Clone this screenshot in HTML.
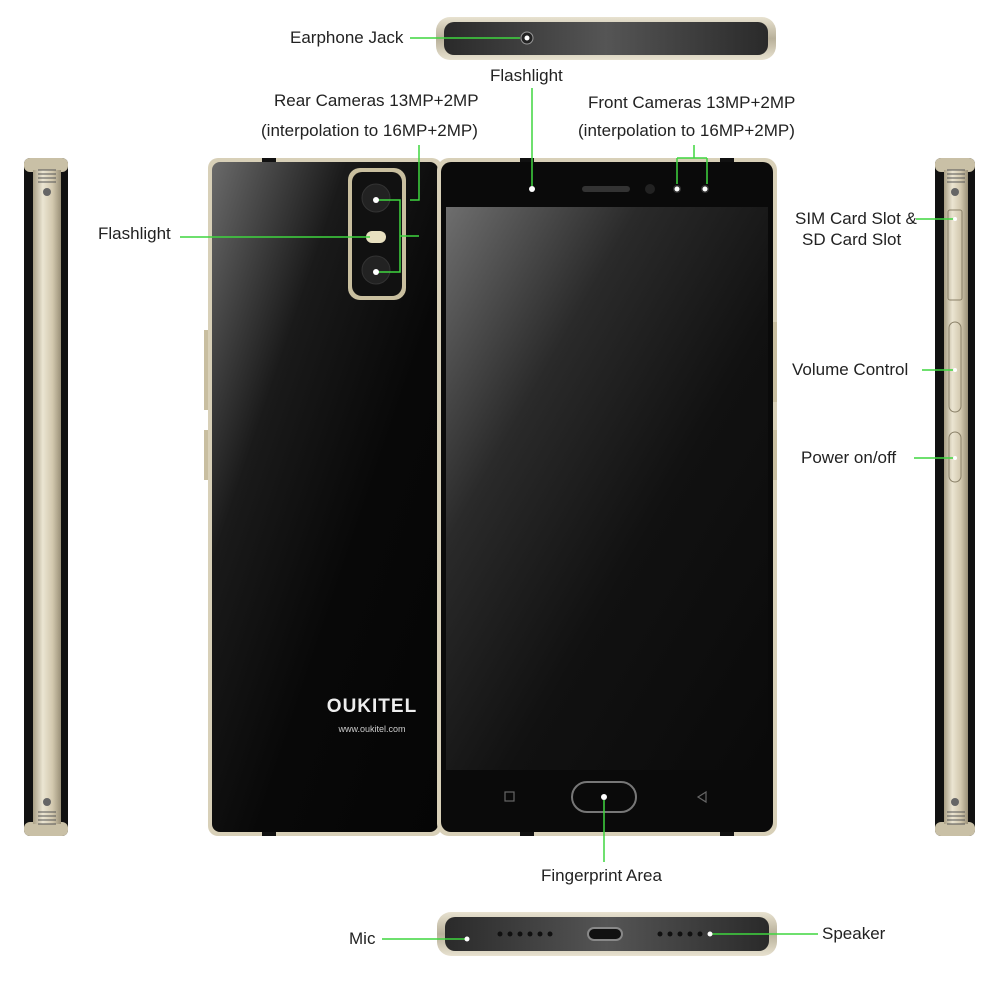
<!DOCTYPE html>
<html><head><meta charset="utf-8"><style>
body{margin:0;background:#fff;}
.wrap{position:relative;width:1000px;height:1000px;overflow:hidden;font-family:"Liberation Sans",sans-serif;color:#222;}
.t{position:absolute;font-size:17px;white-space:nowrap;}
</style></head><body><div class="wrap">
<svg width="1000" height="1000" style="position:absolute;left:0;top:0">
<defs>
<linearGradient id="gold" x1="0" x2="1"><stop offset="0" stop-color="#a89e84"/><stop offset=".35" stop-color="#ebe5d2"/><stop offset=".7" stop-color="#d2c8ae"/><stop offset="1" stop-color="#9a9078"/></linearGradient>
<linearGradient id="back" x1="0" y1="0" x2="1" y2="1"><stop offset="0" stop-color="#6a6a6a"/><stop offset=".3" stop-color="#1a1a1a"/><stop offset=".6" stop-color="#080808"/><stop offset="1" stop-color="#050505"/></linearGradient>
<linearGradient id="scr" x1="0" y1="0" x2="1" y2="1"><stop offset="0" stop-color="#6e6e6e"/><stop offset=".3" stop-color="#2a2a2a"/><stop offset=".6" stop-color="#111"/><stop offset="1" stop-color="#0a0a0a"/></linearGradient>
<linearGradient id="edge" x1="0" y1="0" x2="0" y2="1"><stop offset="0" stop-color="#e8e2d0"/><stop offset=".5" stop-color="#b8b09a"/><stop offset="1" stop-color="#e8e2d0"/></linearGradient>
<linearGradient id="carb" x1="0" y1="0" x2="1" y2="0"><stop offset="0" stop-color="#2a2a2a"/><stop offset=".5" stop-color="#555"/><stop offset="1" stop-color="#2a2a2a"/></linearGradient>
</defs>
<!-- left side -->
<rect x="24" y="158" width="44" height="678" rx="6" fill="#111"/>
<rect x="24" y="158" width="44" height="14" rx="6" fill="#c9c0a6"/>
<rect x="24" y="822" width="44" height="14" rx="6" fill="#c9c0a6"/>
<rect x="33" y="170" width="28" height="654" fill="url(#gold)"/>
<g stroke="#555" stroke-width="1"><line x1="38" y1="170" x2="56" y2="170"/><line x1="38" y1="174" x2="56" y2="174"/><line x1="38" y1="178" x2="56" y2="178"/><line x1="38" y1="182" x2="56" y2="182"/>
<line x1="38" y1="812" x2="56" y2="812"/><line x1="38" y1="816" x2="56" y2="816"/><line x1="38" y1="820" x2="56" y2="820"/><line x1="38" y1="824" x2="56" y2="824"/></g>
<circle cx="47" cy="192" r="4" fill="#666"/><circle cx="47" cy="802" r="4" fill="#666"/>
<!-- back phone -->
<rect x="208" y="158" width="234" height="678" rx="10" fill="#d8d0b8"/>
<rect x="212" y="162" width="226" height="670" rx="8" fill="url(#back)"/>
<rect x="204" y="330" width="4" height="80" fill="#c8bea0"/>
<rect x="204" y="430" width="4" height="50" fill="#c8bea0"/>
<rect x="262" y="158" width="14" height="4" fill="#111"/><rect x="262" y="832" width="14" height="4" fill="#111"/>
<rect x="348" y="168" width="58" height="132" rx="12" fill="#c9bf9f"/>
<rect x="352" y="172" width="50" height="124" rx="10" fill="#111"/>
<circle cx="376" cy="198" r="14" fill="#222" stroke="#333"/>
<circle cx="376" cy="270" r="14" fill="#222" stroke="#333"/>
<rect x="366" y="231" width="20" height="12" rx="6" fill="#e8e0c0"/>
<text x="372" y="712" font-family="Liberation Sans" font-weight="bold" font-size="19" fill="#eee" text-anchor="middle" letter-spacing="1">OUKITEL</text>
<text x="372" y="732" font-family="Liberation Sans" font-size="9" fill="#ccc" text-anchor="middle">www.oukitel.com</text>
<!-- front phone -->
<rect x="437" y="158" width="340" height="678" rx="12" fill="#d8d0b8"/>
<rect x="441" y="162" width="332" height="670" rx="10" fill="#0a0a0a"/>
<rect x="446" y="207" width="322" height="563" fill="url(#scr)"/>
<rect x="520" y="158" width="14" height="4" fill="#111"/><rect x="720" y="158" width="14" height="4" fill="#111"/>
<rect x="520" y="832" width="14" height="4" fill="#111"/><rect x="720" y="832" width="14" height="4" fill="#111"/>
<rect x="582" y="186" width="48" height="6" rx="3" fill="#333"/>
<circle cx="650" cy="189" r="5" fill="#222"/>
<circle cx="677" cy="189" r="4" fill="#333"/>
<circle cx="705" cy="189" r="4" fill="#333"/>
<rect x="505" y="792" width="9" height="9" fill="none" stroke="#666" stroke-width="1.2"/>
<rect x="572" y="782" width="64" height="30" rx="15" fill="none" stroke="#777" stroke-width="2"/>
<path d="M706 792 L698 797 L706 802 Z" fill="none" stroke="#666" stroke-width="1.2"/>
<rect x="773" y="322" width="4" height="80" fill="#c8bea0"/>
<rect x="773" y="430" width="4" height="50" fill="#c8bea0"/>
<!-- right side -->
<rect x="935" y="158" width="40" height="678" rx="6" fill="#111"/>
<rect x="935" y="158" width="40" height="14" rx="6" fill="#c9c0a6"/>
<rect x="935" y="822" width="40" height="14" rx="6" fill="#c9c0a6"/>
<rect x="944" y="170" width="24" height="654" fill="url(#gold)"/>
<g stroke="#555" stroke-width="1"><line x1="947" y1="170" x2="965" y2="170"/><line x1="947" y1="174" x2="965" y2="174"/><line x1="947" y1="178" x2="965" y2="178"/><line x1="947" y1="182" x2="965" y2="182"/>
<line x1="947" y1="812" x2="965" y2="812"/><line x1="947" y1="816" x2="965" y2="816"/><line x1="947" y1="820" x2="965" y2="820"/><line x1="947" y1="824" x2="965" y2="824"/></g>
<circle cx="955" cy="192" r="4" fill="#666"/><circle cx="955" cy="802" r="4" fill="#666"/>
<rect x="948" y="210" width="14" height="90" rx="2" fill="none" stroke="#8a8068"/>
<rect x="949" y="322" width="12" height="90" rx="6" fill="none" stroke="#8a8068"/>
<rect x="949" y="432" width="12" height="50" rx="6" fill="none" stroke="#8a8068"/>
<!-- top edge -->
<rect x="436" y="17" width="340" height="43" rx="14" fill="url(#edge)"/>
<rect x="444" y="22" width="324" height="33" rx="10" fill="url(#carb)"/>
<circle cx="527" cy="38" r="6" fill="#222" stroke="#999"/>
<!-- bottom edge -->
<rect x="437" y="912" width="340" height="44" rx="14" fill="url(#edge)"/>
<rect x="445" y="917" width="324" height="34" rx="10" fill="url(#carb)"/>
<rect x="588" y="928" width="34" height="12" rx="6" fill="#111" stroke="#888" stroke-width="2"/>
<g fill="#111"><circle cx="500" cy="934" r="2.5"/><circle cx="510" cy="934" r="2.5"/><circle cx="520" cy="934" r="2.5"/><circle cx="530" cy="934" r="2.5"/><circle cx="540" cy="934" r="2.5"/><circle cx="550" cy="934" r="2.5"/>
<circle cx="660" cy="934" r="2.5"/><circle cx="670" cy="934" r="2.5"/><circle cx="680" cy="934" r="2.5"/><circle cx="690" cy="934" r="2.5"/><circle cx="700" cy="934" r="2.5"/><circle cx="710" cy="934" r="2.5"/></g>
<!-- callout lines -->
<g stroke="#3fd63f" stroke-width="1.5" fill="none">
<path d="M410 38 H520"/>
<path d="M532 88 V186"/>
<path d="M419 145 V200 H410 M376 200 H400 V272 H376 M400 236 H419"/>
<path d="M180 237 H370"/>
<path d="M694 145 V158 M677 158 H707 M677 158 V184 M707 158 V184"/>
<path d="M916 219 H955"/>
<path d="M922 370 H955"/>
<path d="M914 458 H955"/>
<path d="M604 800 V862"/>
<path d="M382 939 H465"/>
<path d="M710 934 H818"/>
</g>
<g fill="#fff"><circle cx="527" cy="38" r="2.5"/><circle cx="532" cy="189" r="3"/><circle cx="677" cy="189" r="2.5"/><circle cx="705" cy="189" r="2.5"/><circle cx="376" cy="200" r="3"/><circle cx="376" cy="272" r="3"/><circle cx="604" cy="797" r="3"/><circle cx="467" cy="939" r="2.5"/><circle cx="710" cy="934" r="2.5"/><circle cx="955" cy="219" r="2"/><circle cx="955" cy="370" r="2"/><circle cx="955" cy="458" r="2"/></g>
</svg>
<div class="t" style="left:290px;top:28px">Earphone Jack</div>
<div class="t" style="left:490px;top:66px">Flashlight</div>
<div class="t" style="left:274px;top:91px">Rear Cameras 13MP+2MP</div>
<div class="t" style="left:261px;top:121px">(interpolation to 16MP+2MP)</div>
<div class="t" style="left:588px;top:93px">Front Cameras 13MP+2MP</div>
<div class="t" style="left:578px;top:121px">(interpolation to 16MP+2MP)</div>
<div class="t" style="left:98px;top:224px">Flashlight</div>
<div class="t" style="left:795px;top:209px">SIM Card Slot &amp;</div>
<div class="t" style="left:802px;top:230px">SD Card Slot</div>
<div class="t" style="left:792px;top:360px">Volume Control</div>
<div class="t" style="left:801px;top:448px">Power on/off</div>
<div class="t" style="left:541px;top:866px">Fingerprint Area</div>
<div class="t" style="left:349px;top:929px">Mic</div>
<div class="t" style="left:822px;top:924px">Speaker</div>
</div></body></html>
